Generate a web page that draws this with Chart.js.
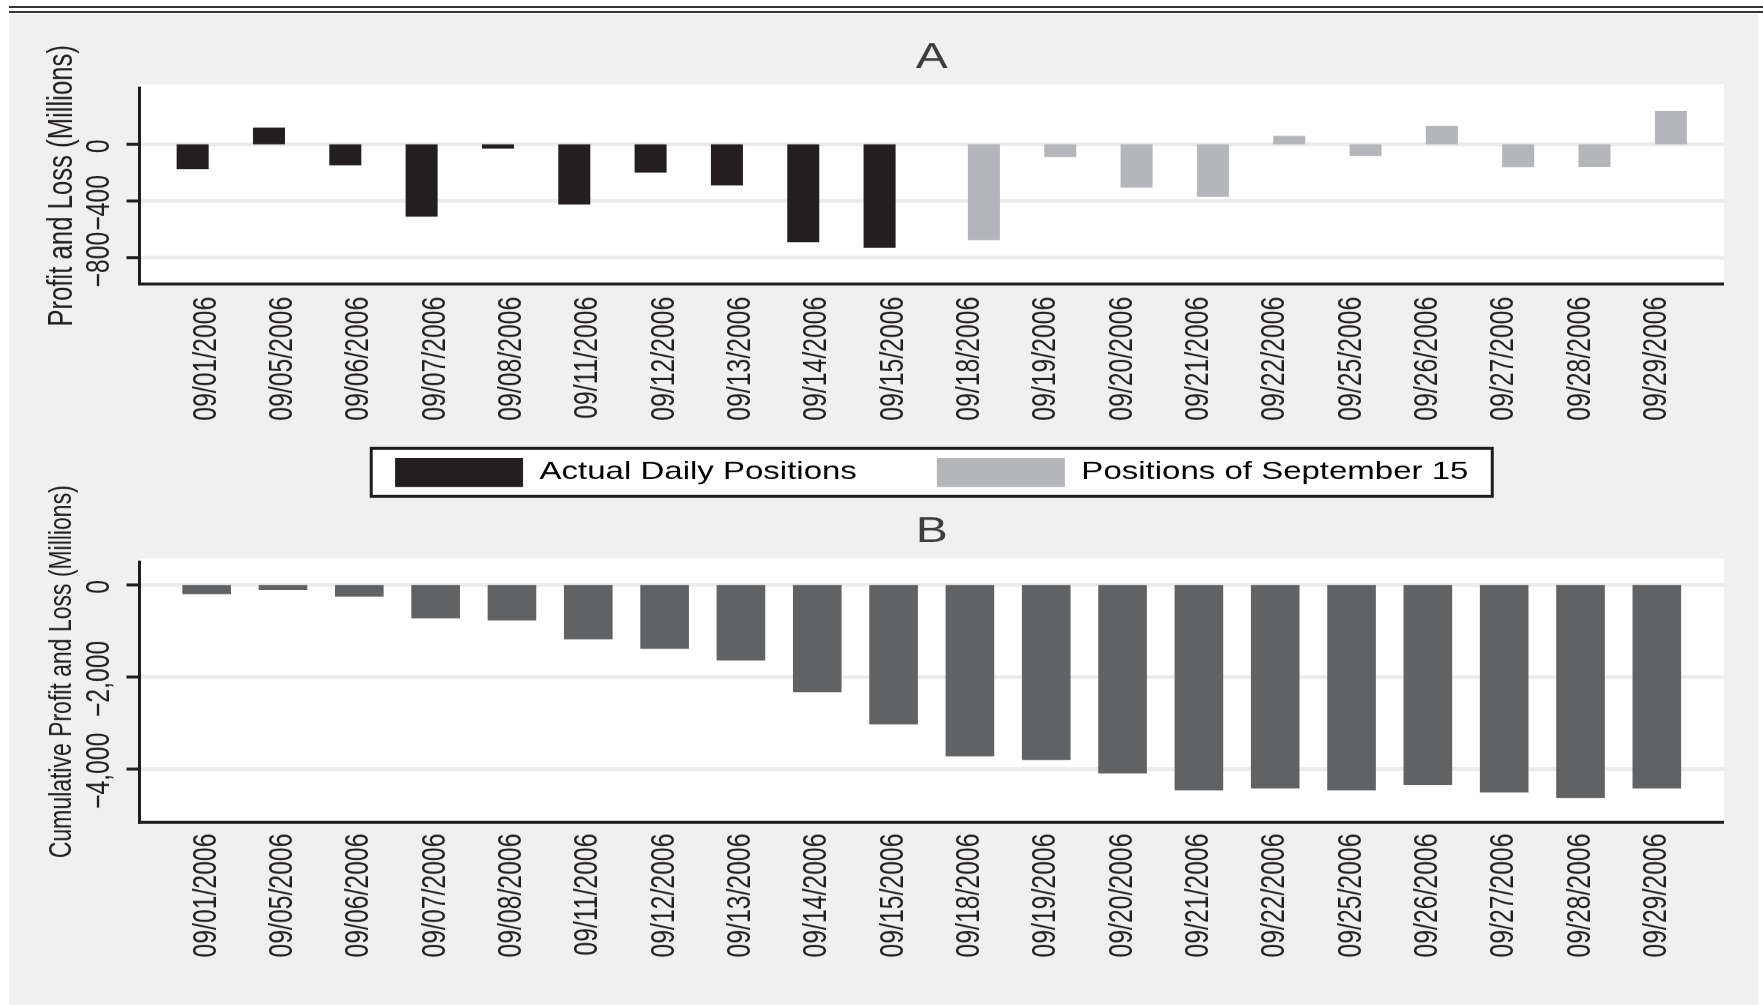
<!DOCTYPE html>
<html>
<head>
<meta charset="utf-8">
<script src="https://cdn.jsdelivr.net/npm/chart.js@4.4.1/dist/chart.umd.min.js"></script>
<style>
  html, body { margin: 0; padding: 0; background: #fff; }
  body { width: 1763px; height: 1005px; position: relative; overflow: hidden; }
  #fundo { position: absolute; left: 9px; top: 14px; width: 1749px; height: 991px; background: #f0f0f0; }
  .filete { position: absolute; left: 9px; right: 0; height: 2px; background: #353535; }
  canvas { position: absolute; left: 0; width: 1763px; }
</style>
</head>
<body>
<div class="filete" style="top:6px"></div>
<div class="filete" style="top:10.5px"></div>
<div id="fundo"></div>
<!-- a figura original vem achatada na vertical: desenha alto e encolhe via CSS (0.75) -->
<canvas id="painel-a" width="1763" height="664" style="top:14px;height:498px"></canvas>
<canvas id="painel-b" width="1763" height="808" style="top:398px;height:606px"></canvas>
<script>
const DATAS = [
  "09/01/2006", "09/05/2006", "09/06/2006", "09/07/2006", "09/08/2006",
  "09/11/2006", "09/12/2006", "09/13/2006", "09/14/2006", "09/15/2006",
  "09/18/2006", "09/19/2006", "09/20/2006", "09/21/2006", "09/22/2006",
  "09/25/2006", "09/26/2006", "09/27/2006", "09/28/2006", "09/29/2006",
];

const SERIES_A = ["Actual Daily Positions", "Positions of September 15"];

const POSICOES_DIARIAS = [
  -176, 118, -148, -510, -30, -425, -200, -290, -690, -730,
  null, null, null, null, null, null, null, null, null, null,
];

const POSICOES_15_SET = [
  null, null, null, null, null, null, null, null, null, null,
  -675, -90, -305, -370, 60, -82, 131, -162, -160, 237,
];

const ACUMULADO = [
  -200, -110, -250, -725, -770, -1180, -1390, -1640, -2330, -3030,
  -3725, -3805, -4095, -4465, -4420, -4465, -4350, -4510, -4630, -4420,
];

const TICKS_A = [0, -400, -800];
const TICKS_B = [0, -2000, -4000];
const LIMITES_A = [-985, 423];
const LIMITES_B = [-5159, 580];

const COR_PRETA = "#231f20";
const COR_CINZA = "#b5b6b9";
const COR_ACUMULADO = "#616264";
const COR_TEXTO = "#231f20";
const FONTE = "'Liberation Sans', Arial, sans-serif";

const EIXO_X = 139.5;
const DIREITA_PLOT = 1724;

const formatarTick = (v) => (v < 0 ? "\u2212" + Math.abs(v).toLocaleString("en-US") : String(v));

const linha = (ctx, x1, y1, x2, y2) => {
  ctx.beginPath();
  ctx.moveTo(x1, y1);
  ctx.lineTo(x2, y2);
  ctx.stroke();
};

const molduraPainel = (config) => ({
  id: "moldura",
  beforeDraw(chart) {
    const { ctx, chartArea, scales } = chart;
    ctx.save();
    ctx.fillStyle = "#ffffff";
    ctx.fillRect(EIXO_X, chartArea.top, DIREITA_PLOT - EIXO_X, chartArea.bottom - chartArea.top);

    ctx.strokeStyle = "#ebebeb";
    ctx.lineWidth = 5;
    config.ticks.forEach((v) => {
      const py = scales.y.getPixelForValue(v);
      linha(ctx, EIXO_X, py, DIREITA_PLOT, py);
    });

    if (config.caixaLegenda && chart.legend) {
      const legenda = chart.legend;
      const centro = (legenda.left + legenda.right) / 2;
      const topoItens = legenda.top + legenda.options.labels.padding;
      const x0 = centro - 562;
      const y0 = topoItens - 15.07;
      ctx.fillStyle = "#1e1e1e";
      ctx.fillRect(x0, y0, 1124, 68);
      ctx.fillStyle = "#ffffff";
      ctx.fillRect(x0 + 3, y0 + 4, 1118, 60);
    }
    ctx.restore();
  },
  afterDraw(chart) {
    const { ctx, chartArea, scales } = chart;
    ctx.save();
    ctx.strokeStyle = "#1e1e1e";
    ctx.lineWidth = 3;
    linha(ctx, EIXO_X, chartArea.top + 3, EIXO_X, chartArea.bottom + 2);
    ctx.lineWidth = 4;
    linha(ctx, EIXO_X - 1.5, chartArea.bottom, DIREITA_PLOT, chartArea.bottom);

    ctx.fillStyle = COR_TEXTO;
    ctx.textAlign = "center";
    ctx.textBaseline = "middle";
    ctx.font = `33px ${FONTE}`;
    config.ticks.forEach((v) => {
      const py = scales.y.getPixelForValue(v);
      linha(ctx, 126.5, py, EIXO_X, py);
      ctx.save();
      ctx.translate(100, py + 2.5);
      ctx.rotate(-Math.PI / 2);
      ctx.fillText(formatarTick(v), 0, 0);
      ctx.restore();
    });

    ctx.font = `${config.tamanhoTitulo}px ${FONTE}`;
    ctx.translate(62.5, config.yTitulo);
    ctx.rotate(-Math.PI / 2);
    ctx.fillText(config.titulo, 0, 0);
    ctx.restore();
  },
});

const eixoDatas = (padding, altura) => ({
  grid: { display: false, drawTicks: false },
  border: { display: false },
  ticks: {
    autoSkip: false,
    minRotation: 90,
    maxRotation: 90,
    padding,
    color: COR_TEXTO,
    font: { family: FONTE, size: 33 },
  },
  afterFit: (escala) => {
    escala.height = altura;
  },
});

const tituloPainel = (texto, topo, base) => ({
  display: true,
  text: texto,
  color: "#3d3d3d",
  font: { family: FONTE, size: 48, weight: "normal", lineHeight: 1 },
  padding: { top: topo, bottom: base },
});

new Chart(document.getElementById("painel-a"), {
  type: "bar",
  data: {
    labels: DATAS,
    datasets: [
      {
        label: SERIES_A[0],
        data: POSICOES_DIARIAS,
        backgroundColor: COR_PRETA,
        borderWidth: 0,
        categoryPercentage: 0.734,
        barPercentage: 1.143,
      },
      {
        label: SERIES_A[1],
        data: POSICOES_15_SET,
        backgroundColor: COR_CINZA,
        borderWidth: 0,
        categoryPercentage: 0.734,
        barPercentage: 1.143,
      },
    ],
  },
  options: {
    responsive: false,
    animation: false,
    devicePixelRatio: 1,
    events: [],
    layout: { padding: { left: 168.5, right: 68, top: 0, bottom: 0 } },
    scales: {
      x: eixoDatas(17, 304),
      y: { display: false, min: LIMITES_A[0], max: LIMITES_A[1] },
    },
    plugins: {
      title: tituloPainel("A", 34.67, 11.06),
      legend: { display: false },
      tooltip: { enabled: false },
    },
  },
  plugins: [
    molduraPainel({
      ticks: TICKS_A,
      titulo: "Profit and Loss (Millions)",
      tamanhoTitulo: 34.3,
      yTitulo: 229.07,
      caixaLegenda: false,
    }),
  ],
});

// a legenda é comum aos dois painéis: fica no topo do painel B, acima do título
new Chart(document.getElementById("painel-b"), {
  type: "bar",
  data: {
    labels: DATAS,
    datasets: [
      {
        label: "Cumulative Profit and Loss",
        data: ACUMULADO,
        backgroundColor: COR_ACUMULADO,
        borderWidth: 0,
        categoryPercentage: 1,
        barPercentage: 0.637,
      },
    ],
  },
  options: {
    responsive: false,
    animation: false,
    devicePixelRatio: 1,
    events: [],
    layout: { padding: { left: 168.5, right: 68, top: 0, bottom: 0 } },
    scales: {
      x: eixoDatas(15, 242.27),
      y: { display: false, min: LIMITES_B[0], max: LIMITES_B[1] },
    },
    plugins: {
      title: tituloPainel("B", 26, 11.06),
      legend: {
        position: "top",
        weight: 3000,
        labels: {
          boxWidth: 128,
          boxHeight: 38.67,
          padding: 80,
          color: COR_TEXTO,
          font: { family: FONTE, size: 33 },
          generateLabels: () =>
            SERIES_A.map((texto, i) => ({
              text: texto,
              fillStyle: [COR_PRETA, COR_CINZA][i],
              strokeStyle: [COR_PRETA, COR_CINZA][i],
              lineWidth: 0,
              hidden: false,
              datasetIndex: i,
            })),
        },
      },
      tooltip: { enabled: false },
    },
  },
  plugins: [
    molduraPainel({
      ticks: TICKS_B,
      titulo: "Cumulative Profit and Loss (Millions)",
      tamanhoTitulo: 30.65,
      yTitulo: 364.93,
      caixaLegenda: true,
    }),
  ],
});
</script>
</body>
</html>
